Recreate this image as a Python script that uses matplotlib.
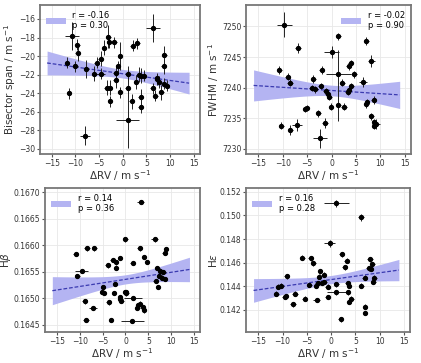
import numpy as np
import matplotlib
matplotlib.use('Agg')
import matplotlib.pyplot as plt

# Bisector span panel
bis_x = [-11.8, -11.4, -10.7, -10.0, -9.6, -9.5, -7.7, -8.0, -6.1, -5.5, -4.7, -4.7, -4.0, -3.4,
         -3.1, -2.8, -2.7, -2.9, -1.8, -1.5, -1.5, -1.0, -0.6, -0.6, 1.0, 1.0, 1.0, 1.9, 2.1,
         2.8, 3.1, 3.5, 3.8, 3.8, 3.8, 4.5, 6.3, 6.3, 6.9, 7.2, 7.2, 7.7, 8.1, 8.6, 8.6, 8.8, 9.3]
bis_y = [-20.7, -24.0, -17.8, -21.1, -18.8, -19.7, -21.4, -28.6, -21.9, -20.7, -20.3, -21.9, -19.1, -23.4,
         -17.9, -23.4, -24.9, -18.5, -18.5, -21.8, -22.6, -21.1, -20.0, -23.9, -21.9, -23.4, -26.9, -24.9, -18.9,
         -22.8, -18.6, -22.0, -22.1, -24.4, -25.5, -22.1, -17.0, -23.5, -24.3, -22.4, -22.5, -22.8, -23.9, -23.0, -21.1, -19.9, -23.2]
bis_xerr = [0.5, 0.5, 1.5, 0.5, 0.5, 0.5, 0.6, 1.0, 0.5, 0.5, 0.5, 1.0, 0.5, 0.5,
            0.5, 0.5, 0.5, 0.5, 0.5, 0.5, 0.5, 0.5, 0.5, 0.5, 0.5, 0.5, 2.5, 0.5, 0.5,
            0.5, 0.5, 0.5, 0.5, 0.5, 0.5, 0.5, 1.5, 0.5, 0.5, 0.5, 0.5, 0.5, 0.5, 0.5, 0.5, 0.6, 0.5]
bis_yerr = [0.6, 0.6, 1.5, 0.6, 0.6, 0.8, 1.0, 1.0, 0.8, 0.6, 0.8, 0.6, 0.8, 0.8,
            1.2, 0.8, 0.6, 0.6, 0.6, 0.8, 0.8, 0.6, 1.5, 0.6, 0.8, 1.0, 3.0, 0.8, 0.6,
            0.8, 0.6, 0.8, 0.8, 0.8, 0.6, 0.6, 1.5, 0.6, 0.6, 0.6, 0.6, 0.6, 0.8, 0.6, 0.8, 1.0, 0.6]

# FWHM panel
fw_x = [-9.7, -6.8, -10.7, -9.0, -8.5, -3.7, -2.0, 0.0, 1.4, 1.4, 3.5, 3.9, 4.6, 6.5, 7.1, 8.2,
        -4.1, -3.3, -2.2, -1.2, -0.8, -0.5, 2.2, 3.3, 3.5, 4.1, -5.1, -5.4, -2.7, -0.1, 2.6,
        7.1, 7.3, 8.7, 8.2, 8.8, 9.2, 8.8, -10.3, -8.5, -7.1, -1.4, -2.4, 1.4]
fw_y = [7250.3, 7246.5, 7242.9, 7241.8, 7240.8, 7241.4, 7242.9, 7245.8, 7248.4, 7242.2, 7243.5, 7244.0, 7242.2, 7240.9, 7247.6, 7244.4,
        7239.9, 7239.7, 7240.3, 7239.4, 7238.9, 7238.5, 7240.8, 7239.3, 7239.6, 7240.3, 7236.6, 7236.5, 7235.8, 7236.9, 7236.9,
        7237.3, 7237.6, 7238.0, 7235.3, 7234.3, 7234.0, 7233.8, 7233.8, 7233.1, 7233.9, 7234.2, 7231.7, 7237.1]
fw_xerr = [1.5, 0.6, 0.5, 0.5, 0.6, 0.5, 0.5, 1.5, 0.5, 2.5, 0.5, 0.6, 0.6, 0.8, 0.5, 0.8,
           0.5, 0.5, 0.5, 0.5, 0.5, 0.5, 0.5, 0.5, 0.5, 0.5, 0.5, 0.5, 0.5, 0.5, 0.6,
           0.5, 0.5, 0.5, 0.5, 0.5, 0.8, 0.5, 0.5, 0.5, 1.0, 0.6, 1.5, 0.5]
fw_yerr = [2.0, 0.8, 0.6, 0.6, 0.6, 0.6, 0.6, 1.0, 0.6, 4.0, 0.6, 0.6, 0.6, 0.8, 0.6, 1.0,
           0.5, 0.5, 0.5, 0.5, 0.5, 0.5, 0.6, 0.5, 0.5, 0.5, 0.5, 0.5, 0.6, 0.6, 0.6,
           0.6, 0.6, 0.6, 0.6, 0.6, 0.8, 0.6, 0.6, 0.8, 1.0, 0.8, 1.5, 2.5]

# H-beta panel
hb_x = [3.3, -10.9, -10.5, -9.6, -8.4, -6.8, -8.9, -8.6, -7.1, -3.9, -2.8, -2.1, -2.1, -1.2, 0.0,
        1.6, 3.1, 4.1, 4.7, 6.4, 8.9, 8.6, 7.0, 7.6, 8.3, 7.9, 7.4, 8.6, 6.6, 7.1, -4.9, -5.1,
        -4.8, -2.5, -2.3, -1.2, -1.1, -0.9, -0.1, 0.1, 0.2, 1.6, -3.7, 2.7, 2.6, 3.2, 3.8, 4.1, -3.2, 1.5]
hb_y = [0.16682, 0.16584, 0.16542, 0.16552, 0.16594, 0.16594, 0.16494, 0.16459, 0.16482, 0.16562, 0.16572, 0.16569, 0.16558, 0.16576, 0.16611,
        0.16566, 0.16594, 0.16578, 0.16569, 0.16611, 0.16593, 0.16586, 0.16557, 0.16551, 0.16549, 0.16539, 0.16542, 0.16536, 0.16533, 0.16521, 0.16521, 0.16512,
        0.16510, 0.16510, 0.16527, 0.16503, 0.16498, 0.16495, 0.16512, 0.16512, 0.16509, 0.16501, 0.16492, 0.16487, 0.16481, 0.16490, 0.16483, 0.16477, 0.16459, 0.16457]
hb_xerr = [0.8, 0.5, 0.5, 1.5, 0.6, 0.6, 0.5, 0.6, 0.8, 0.5, 0.5, 0.5, 0.5, 0.5, 0.5,
           0.5, 0.5, 0.5, 0.5, 0.8, 0.5, 0.5, 0.5, 0.5, 0.5, 0.5, 0.5, 0.5, 0.5, 0.5, 0.5, 0.5,
           0.5, 0.5, 0.5, 0.5, 0.5, 0.5, 0.5, 0.5, 0.5, 2.0, 0.5, 0.5, 0.5, 0.5, 0.5, 0.5, 0.5, 2.5]
hb_yerr = [0.00004] * len(hb_x)

# H-epsilon panel
he_x = [1.1, 6.2, -0.3, -5.9, -4.2, -3.7, 2.2, 3.2, 2.8, 8.0, 8.5, 8.2, -2.3, -2.5, -1.5, -1.4, -1.9,
        -2.8, -3.1, -4.5, -0.7, 1.1, 1.1, 3.4, 3.7, 3.4, 3.7, 4.2, 6.2, 6.9, 7.8, 8.9, 8.7, 7.0, 7.0,
        2.0, -10.3, -10.9, -11.3, -9.2, -9.6, -9.3, -7.5, -7.9, -5.4, -3.0, -0.7]
he_y = [0.15102, 0.14983, 0.14765, 0.14643, 0.14635, 0.14594, 0.14670, 0.14616, 0.14561, 0.14629, 0.14586, 0.14548, 0.14526, 0.14480, 0.14499, 0.14436, 0.14426,
        0.14426, 0.14404, 0.14409, 0.14396, 0.14417, 0.14349, 0.14426, 0.14404, 0.14349, 0.14268, 0.14295, 0.14404, 0.14472, 0.14553, 0.14472, 0.14436, 0.14227, 0.14173,
        0.14118, 0.14404, 0.14396, 0.14336, 0.14485, 0.14309, 0.14317, 0.14336, 0.14246, 0.14295, 0.14282, 0.14309]
he_xerr = [2.6, 0.6, 1.2, 0.5, 0.5, 0.5, 0.5, 0.5, 0.5, 0.6, 0.5, 0.5, 0.5, 0.5, 0.5, 0.5, 0.5,
           0.5, 0.5, 0.5, 0.5, 0.5, 1.9, 0.5, 0.5, 0.5, 0.5, 0.5, 0.5, 0.5, 0.5, 0.5, 0.5, 0.5, 0.5,
           0.5, 0.5, 0.5, 0.5, 0.5, 0.5, 0.5, 0.6, 0.6, 0.5, 0.8, 0.5]
he_yerr = [0.0003, 0.0003, 0.0003] + [0.0002] * (len(he_x) - 3)

stats = ['r = -0.16\np = 0.30', 'r = -0.02\np = 0.90', 'r = 0.14\np = 0.36', 'r = 0.16\np = 0.28']
ylabels = ['Bisector span / m s$^{-1}$', 'FWHM / m s$^{-1}$', r'H$\beta$', r'H$\epsilon$']


def fit_band(ax, x, y, label, loc):
    x = np.asarray(x)
    y = np.asarray(y)
    b, a = np.polyfit(x, y, 1)
    xx = np.linspace(-16, 14, 100)
    yy = a + b * xx
    n = len(x)
    resid = y - (a + b * x)
    s = np.sqrt(np.sum(resid**2) / (n - 2))
    se = s * np.sqrt(1.0 / n + (xx - x.mean())**2 / np.sum((x - x.mean())**2))
    ax.fill_between(xx, yy - 1.3 * se, yy + 1.3 * se, color='#b4b4f2', lw=0, label=label, zorder=1)
    ax.plot(xx, yy, '--', color='#3a3ab0', lw=0.9, dashes=(3, 1.5), zorder=2)
    ax.legend(loc=loc, frameon=False, fontsize=6, handlelength=2.4, borderaxespad=0.3,
              labelspacing=0.2)


fig = plt.figure(figsize=(4.21, 3.63), dpi=100)
rects = [[0.095, 0.575, 0.380, 0.411], [0.585, 0.575, 0.391, 0.411],
         [0.108, 0.085, 0.367, 0.397], [0.585, 0.085, 0.389, 0.397]]
datas = [(bis_x, bis_y, bis_xerr, bis_yerr), (fw_x, fw_y, fw_xerr, fw_yerr),
         (hb_x, hb_y, hb_xerr, hb_yerr), (he_x, he_y, he_xerr, he_yerr)]
ylims = [(-30.6, -14.5), (7229.1, 7253.5), (0.16436, 0.16708), (0.1401, 0.15233)]
yticks = [np.arange(-30, -15, 2), np.arange(7230, 7251, 5), [0.1645, 0.165, 0.1655, 0.166, 0.1665, 0.167],
          [0.142, 0.144, 0.146, 0.148, 0.15, 0.152]]
locs = ['upper left', 'upper right', 'upper left', 'upper left']

for i in range(4):
    ax = fig.add_axes(rects[i])
    x, y, xe, ye = datas[i]
    ax.errorbar(x, y, xerr=xe, yerr=ye, fmt='o', ms=2.8, color='black', ecolor='#222222',
                elinewidth=0.7, capsize=0, zorder=3)
    fit_band(ax, x, y, stats[i], locs[i])
    ax.set_xlim(-17.5, 16.3)
    ax.set_ylim(*ylims[i])
    ax.set_xticks([-15, -10, -5, 0, 5, 10, 15])
    ax.set_yticks(yticks[i])
    if i == 2:
        ax.set_yticklabels(['%.4f' % t for t in yticks[i]])
    if i == 3:
        ax.set_yticklabels(['%.3f' % t for t in yticks[i]])
    ax.grid(True, color='#e8e8e8', lw=0.6)
    ax.set_axisbelow(True)
    ax.tick_params(labelsize=5.5, length=2, pad=1.5, color='#555555', labelcolor='#333333')
    for sp in ax.spines.values():
        sp.set_color('#777777')
        sp.set_linewidth(1.3)
    ax.set_xlabel('$\\Delta$RV / m s$^{-1}$', fontsize=7.5, labelpad=0, color='#333333')
    ax.set_ylabel(ylabels[i], fontsize=7.5, labelpad=0.5, color='#333333')

fig.savefig('out.png', dpi=100)
